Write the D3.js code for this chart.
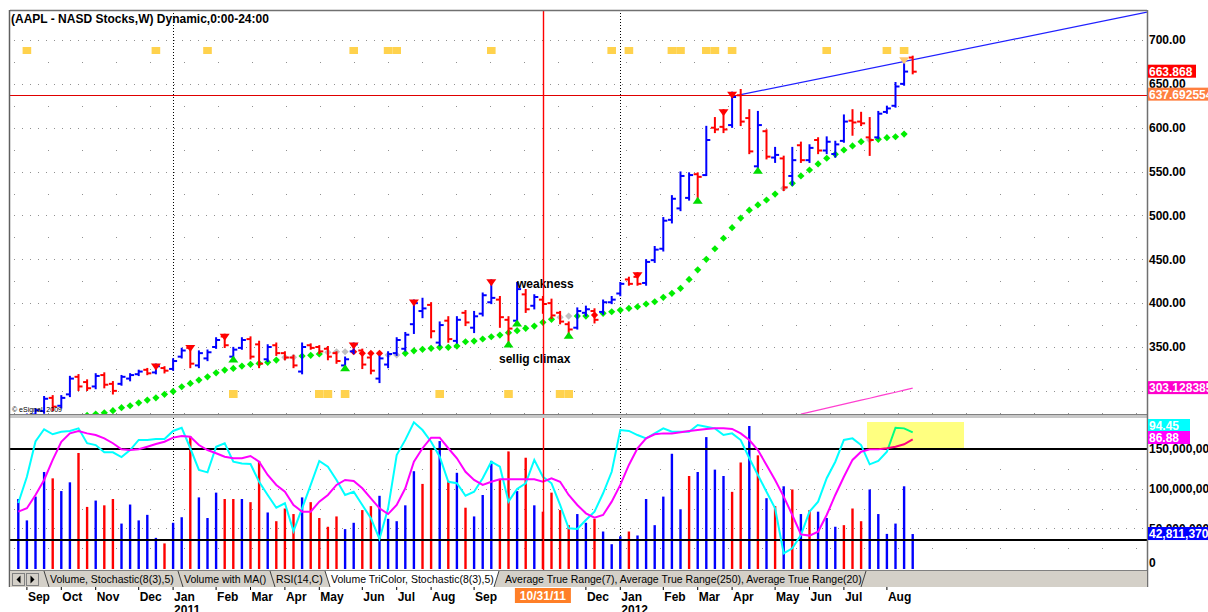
<!DOCTYPE html>
<html>
<head>
<meta charset="utf-8">
<script src="https://cdn.jsdelivr.net/npm/d3@7"></script>
<style>
  body { margin: 0; background: #fff; }
  svg text { font-family: "Liberation Sans", Arial, sans-serif; }
</style>
</head>
<body>
<div id="chart"></div>
<script>
// ---- weekly AAPL bars, Aug 30 2010 .. Aug 20 2012 (bar index 0..104) ----
var opens = [262,266,273,277,292,283,296,316,310,305, 318,308,308,314,319,324,321,326,325,339,
  349,329,337,350,362,339,349,359,353,336, 352,343,338,322,352,350,348,343,329,345,
  346,338,314,330,343,348,376,391,398,355, 380,357,389,372,388,401,404,381,380,410,
  397,404,400,389,376,372,389,391,390,401, 411,427,430,423,449,462,495,508,520,547,
  546,600,601,603,637,611,556,596,566,565, 545,580,563,586,574,570,585,608,607,589,
  589,618,625,650,680];
var highs = [268,273,279,293,294,294,316,318,312,319, 320,310,317,319,323,325,330,327,336,348,
  351,345,346,360,364,349,360,361,356,352, 354,344,340,354,353,351,350,344,338,354,
  347,341,339,344,360,366,403,405,400,378, 384,384,391,390,411,426,407,384,423,415,
  409,407,404,390,378,394,396,393,403,407, 423,429,434,449,464,497,522,549,548,548,
  601,611,620,640,643,620,618,597,577,567, 577,583,580,588,589,584,614,620,617,611,
  618,624,651,677,681];
var lows = [256,263,272,275,278,281,294,301,301,303, 304,297,307,312,318,319,320,321,324,338,
  327,327,335,349,350,337,348,337,327,334, 341,336,327,320,348,343,336,332,327,343,
  326,320,310,327,341,346,366,384,361,352, 356,355,375,367,386,400,373,354,378,390,
  394,389,383,377,364,371,386,378,388,400, 409,421,421,421,447,460,492,506,518,518,
  546,595,595,601,603,571,552,565,561,529, 535,561,561,571,571,567,584,592,603,569,
  588,617,624,649,662];
var closes = [266,271,278,291,282,292,314,305,303,317, 307,300,316,318,322,320,328,323,334,346,
  331,343,344,358,352,347,358,339,331,350, 343,338,329,350,349,345,339,334,336,353,
  330,323,337,342,358,364,400,394,368,375, 359,381,378,385,409,406,384,371,416,393,
  407,399,386,379,370,391,393,381,401,404, 422,422,422,447,461,494,519,545,546,544,
  586,598,598,635,607,573,603,567,569,532, 563,563,577,574,584,581,607,606,605,586,
  616,622,647,664,663.87];

// stop-and-reverse style dots under/over price, colour code g/s/r
var dotValues = [null,null,null,null,null,null,null,269,272,273.6, 275,277.4,280.8,283,286.4,289.5,292,296,299.4,304.7,
  308.5,312.3,316,320.6,323.7,325.6,328.2,330.2,331.3,332.5, 335.1,338.2,338.2,339.7,340.5,342,343.9,344.6,344.6,344.6,
  342.8,342.8,342.8,340.9,340.9,342.8,345.7,347.3,348.5,349.6, 349.6,351.1,356,356.8,359.1,361.7,363.6,366.3,368.6,371.3,
  373.9,378.1,381.5,383.8,385.3,385.3,385.3,386.4,388.4,390.2, 392.1,394.1,395.9,399,401.6,406.6,411.2,416.9,427,438,
  450,462,474,486,497,506,512,517.6,524.4,531, 536.6,545,551.8,558.7,565.2,569.7,574.6,579.2,584.1,586,
  586.8,588.6,589.7,592.8,null];
var dotColors = 'gggggggggg' + 'gggggggggg' + 'gggggggggg' + 'gssgggsssr' + 'rrrssggggg' +
  'gggggggggg' + 'gggssggrgg' + 'gggggggggg' + 'gggggggggs' + 'gggggggggs' + 'ggggg';

var upSignals = [25, 38, 57, 58, 64, 79, 86];
var downSignals = [16, 20, 24, 39, 46, 55, 72, 82, 83];
var warnSignals = [103];
var topMarks = [1, 16, 22, 39, 43, 44, 55, 69, 71, 76, 77, 80, 81, 83, 94, 101, 103];
var bottomMarks = [25, 35, 36, 38, 49, 57, 63, 64];

var maFirstBar = 91;
var maValues = [273.5, 275.8, 278.0, 280.3, 282.6, 284.9, 287.1, 289.4, 291.6, 293.9, 296.2, 298.4, 300.8, 303.1];

var trendStart = [84, 637.7];
var trendEnd = [103, 675.5];
var lastLevel = 637.692554;

// ---- lower pane: volume (millions) and stochastic ----
var volumes = [87,60,90,121,113,97,108,145,77,85, 79,87,56,80,60,67,38,31,57,64,
  166,89,63,95,87,87,87,83,135,70, 59,75,68,89,83,63,52,65,49,57,
  73,78,91,62,59,79,122,106,150,160, 110,120,76,65,92,135,111,147,97,139,
  79,71,95,73,54,68,57,62,46,30, 40,46,41,87,54,90,144,74,116,121,
  165,124,116,96,133,179,142,88,78,103, 99,68,73,71,63,52,54,75,59,99,
  68,43,56,103,42.81137];
var volColors = 'bbbbrbbrrbrrbbbbbrbbrbbbrrbrrbrrrbrrrrbbrrbbb' +
  'bbrrbrbrbbbrrbrbrrrrbbrbbbrbbbbbbrbbbbrrbrbrbrbrbbbrrrbbbbb';
var stochK = [44.4,61.7,85,93,89.7,91.4,91.9,93.6,83.8,82.6, 77.8,77.8,74.7,79.3,86,86,86.6,86.6,91.9,94,
  80.5,66.2,64.6,81.5,83.8,71.6,70.5,70.1,58.4,49.7, 41.3,44.2,25.9,40.9,56.3,72.1,68.3,59.6,49.7,51.8,
  43.1,34.3,20.7,40.9,76,86,97.6,92.5,84.8,74.9, 58.4,57.4,49.2,51.8,60.7,71.6,68.3,45.3,53.6,57.4,
  72.8,61.7,57.4,43.1,27.7,27.3,33.2,38.7,50.8,65, 92.5,91.9,89.2,87,90.3,93.6,91.4,91.4,91.4,95.8,
  94.7,93.6,89.2,90.3,85.9,73.9,62.9,51.8,40.9,11.2, 14.5,23.3,38.7,45.3,60.7,71.6,86,87,82.6,69.9,
  72.1,78.2,94,93.6,91];
var stochD = [38.7,40.9,49.7,59.6,72.8,84.8,90.3,91.9,90.3,89.2, 87,83.8,79.8,79.3,79.8,81.5,83.3,84.8,87.5,88.6,
  88.1,82.6,79.3,77.2,74.9,73.9,73.9,75.4,71.6,62.9, 56.3,51.8,43.1,38.7,38.7,45.3,49.7,56.3,59.6,58.9,
  54.1,47.5,40.9,37.1,43.1,54.1,71.6,80.5,87.5,87.5, 80.5,73.9,65,59.6,56.3,58.4,60,60,60,60,
  60,58.4,60.7,58.4,49.7,43.1,37.6,34.7,36.5,45.3, 56.3,69.5,80.5,87,89.7,90.3,90.3,91,91.9,92.5,
  93.2,93.6,93.6,93.2,90.3,85.9,79.3,69.5,59.6,48.6, 36.5,23.7,22.9,25.5,36.5,49.7,61.7,72.8,78.2,79.8,
  79.8,80.5,81.5,83.1,86.4];

// ---- axis text ----
var monthLabels = ['Sep','Oct','Nov','Dec','Jan','Feb','Mar','Apr','May','Jun','Jul','Aug','Sep',
  'Dec','Jan','Feb','Mar','Apr','May','Jun','Jul','Aug'];
var monthBars = [1,5,9,14,18,23,27,31,35,40,44,48,53, 66,70,75,79,83,88,92,96,101];
var yearLabels = ['2011', '2012'];
var yearBars = [18, 70];
var cursorBar = 61;
var cursorLabel = '10/31/11';
var priceTicks = [350, 400, 450, 500, 550, 600, 650, 700];
var volTicks = [0, 50, 100, 150];
var volTickLabels = ['0', '50,000,000', '100,000,000', '150,000,000'];
var tabLabels = ['Volume, Stochastic(8(3),5)', 'Volume with MA()', 'RSI(14,C)',
  'Volume TriColor, Stochastic(8(3),5)', 'Average True Range(7), Average True Range(250), Average True Range(20)'];
var title = '(AAPL - NASD Stocks,W) Dynamic,0:00-24:00';

// ---- layout ----
var W = 1208, H = 612;
var L = 10, R = 1147;
var mainTop = 10, mainBot = 414, lowTop = 418, lowBot = 569;
var BLUE = '#0000ff', RED = '#ff0000';

var svg = d3.select('#chart').append('svg')
  .attr('width', W).attr('height', H)
  .style('display', 'block');

svg.append('rect').attr('width', W).attr('height', H).attr('fill', '#fff');

var defs = svg.append('defs');
defs.append('clipPath').attr('id', 'clipMain').append('rect')
  .attr('x', L).attr('y', mainTop).attr('width', R - L).attr('height', mainBot - mainTop);
defs.append('clipPath').attr('id', 'clipLow').append('rect')
  .attr('x', L).attr('y', lowTop).attr('width', R - L).attr('height', lowBot - lowTop);

var x = d3.scaleLinear().domain([0, 104]).range([18.3, 912.7]);
var y = d3.scaleLinear().domain([350, 700]).range([347, 40]);
var yV = d3.scaleLinear().domain([0, 150]).range([568, 449]);
var yS = d3.scaleLinear().domain([20, 80]).range([540, 449]);

var idx = d3.range(opens.length);

// ---------------- main pane ----------------
var main = svg.append('g').attr('clip-path', 'url(#clipMain)');

// grid
d3.range(275, 725, 25).forEach(function (v) {
  var major = v % 50 === 0;
  main.append('line')
    .attr('x1', L + 4).attr('x2', R)
    .attr('y1', Math.round(y(v)) + 0.5).attr('y2', Math.round(y(v)) + 0.5)
    .attr('stroke', '#909090')
    .attr('stroke-dasharray', major ? '1,7' : '1,33');
});
yearBars.forEach(function (b) {
  main.append('line')
    .attr('x1', Math.round(x(b)) + 0.5).attr('x2', Math.round(x(b)) + 0.5)
    .attr('y1', mainTop).attr('y2', mainBot)
    .attr('stroke', '#000').attr('stroke-dasharray', '1,2');
});

// yellow marker squares
topMarks.forEach(function (b) {
  main.append('rect').attr('x', x(b) - 4.3).attr('y', 47).attr('width', 8.6).attr('height', 7)
    .attr('fill', '#ffd24d');
});
bottomMarks.forEach(function (b) {
  main.append('rect').attr('x', x(b) - 4.3).attr('y', 390).attr('width', 8.6).attr('height', 8)
    .attr('fill', '#ffd24d');
});

// last-price level and trend line
main.append('line')
  .attr('x1', L).attr('x2', R)
  .attr('y1', Math.round(y(lastLevel)) + 0.5).attr('y2', Math.round(y(lastLevel)) + 0.5)
  .attr('stroke', '#e00000');
var slope = (y(trendEnd[1]) - y(trendStart[1])) / (x(trendEnd[0]) - x(trendStart[0]));
main.append('line')
  .attr('x1', x(trendStart[0])).attr('y1', y(trendStart[1]))
  .attr('x2', R).attr('y2', y(trendStart[1]) + slope * (R - x(trendStart[0])))
  .attr('stroke', '#2020ff').attr('stroke-width', 1.2);

// magenta average
var maLine = d3.line()
  .x(function (d, i) { return x(maFirstBar + i); })
  .y(function (d) { return y(d); });
main.append('path').datum(maValues).attr('d', maLine)
  .attr('fill', 'none').attr('stroke', '#ff40d0').attr('stroke-width', 1.2);

// dots
var dotFill = { g: '#00ee00', s: '#c0c0c0', r: '#ff0000' };
main.append('g').selectAll('path')
  .data(idx.filter(function (i) { return dotValues[i] !== null; }))
  .enter().append('path')
  .attr('d', d3.symbol().type(d3.symbolSquare).size(26))
  .attr('transform', function (i) { return 'translate(' + x(i) + ',' + y(dotValues[i]) + ') rotate(45)'; })
  .attr('fill', function (i) { return dotFill[dotColors[i]]; });

// OHLC bars
var bars = main.append('g').selectAll('g').data(idx).enter().append('g')
  .attr('stroke', function (i) { return closes[i] >= opens[i] ? BLUE : RED; })
  .attr('stroke-width', 2);
bars.append('line')
  .attr('x1', function (i) { return x(i); }).attr('x2', function (i) { return x(i); })
  .attr('y1', function (i) { return y(highs[i]) - 1; }).attr('y2', function (i) { return y(lows[i]) + 1; });
bars.append('line')
  .attr('x1', function (i) { return x(i) - 4; }).attr('x2', function (i) { return x(i); })
  .attr('y1', function (i) { return y(opens[i]); }).attr('y2', function (i) { return y(opens[i]); });
bars.append('line')
  .attr('x1', function (i) { return x(i); }).attr('x2', function (i) { return x(i) + 4; })
  .attr('y1', function (i) { return y(closes[i]); }).attr('y2', function (i) { return y(closes[i]); });

// signal triangles
function downTri(cx, top) {
  return 'M' + (cx - 5) + ',' + top + 'L' + (cx + 5) + ',' + top + 'L' + cx + ',' + (top + 7) + 'Z';
}
function upTri(cx, bot) {
  return 'M' + (cx - 5) + ',' + bot + 'L' + (cx + 5) + ',' + bot + 'L' + cx + ',' + (bot - 7) + 'Z';
}
downSignals.forEach(function (b) {
  main.append('path').attr('d', downTri(x(b), y(highs[b]) - 1)).attr('fill', RED);
});
warnSignals.forEach(function (b) {
  main.append('path').attr('d', downTri(x(b), y(highs[b]) - 3)).attr('fill', '#ffc870');
});
upSignals.forEach(function (b) {
  main.append('path').attr('d', upTri(x(b), y(lows[b]) + 4)).attr('fill', '#00dd00');
});

// annotations
main.append('text').attr('x', 517).attr('y', 288).attr('font-size', 12).attr('font-weight', 'bold')
  .attr('fill', '#000').text('weakness');
main.append('text').attr('x', 499).attr('y', 363).attr('font-size', 12).attr('font-weight', 'bold')
  .attr('fill', '#000').text('sellig climax');
main.append('text').attr('x', 12).attr('y', 412).attr('font-size', 7).attr('fill', '#000')
  .text('\u00a9 eSignal, 2009');

// title
svg.append('text').attr('x', 11).attr('y', 23).attr('font-size', 12).attr('font-weight', 'bold')
  .attr('fill', '#000').text(title);

// ---------------- lower pane ----------------
var low = svg.append('g').attr('clip-path', 'url(#clipLow)');
d3.range(25, 175, 25).forEach(function (v) {
  var major = v % 50 === 0;
  low.append('line')
    .attr('x1', L + 4).attr('x2', R)
    .attr('y1', Math.round(yV(v)) + 0.5).attr('y2', Math.round(yV(v)) + 0.5)
    .attr('stroke', '#909090')
    .attr('stroke-dasharray', major ? '1,7' : '1,33');
});
yearBars.forEach(function (b) {
  low.append('line')
    .attr('x1', Math.round(x(b)) + 0.5).attr('x2', Math.round(x(b)) + 0.5)
    .attr('y1', lowTop).attr('y2', lowBot)
    .attr('stroke', '#000').attr('stroke-dasharray', '1,2');
});

low.append('g').selectAll('line').data(idx).enter().append('line')
  .attr('x1', function (i) { return x(i); }).attr('x2', function (i) { return x(i); })
  .attr('y1', yV(0) + 2).attr('y2', function (i) { return yV(volumes[i]); })
  .attr('stroke', function (i) { return volColors[i] === 'r' ? RED : BLUE; })
  .attr('stroke-width', 2.4);

[80, 20].forEach(function (v) {
  low.append('line').attr('x1', L).attr('x2', R)
    .attr('y1', yS(v)).attr('y2', yS(v))
    .attr('stroke', '#000').attr('stroke-width', 2);
});

var stochLine = d3.line().x(function (d, i) { return x(i); }).y(function (d) { return yS(d); });
low.append('path').datum(stochK).attr('d', stochLine)
  .attr('fill', 'none').attr('stroke', '#00ffff').attr('stroke-width', 2);
low.append('path').datum(stochD).attr('d', stochLine)
  .attr('fill', 'none').attr('stroke', '#ff00ff').attr('stroke-width', 2);

low.append('rect').attr('x', 867).attr('y', 422).attr('width', 97).attr('height', 27)
  .attr('fill', '#ffff80').style('mix-blend-mode', 'multiply');

// cursor line across both panes
svg.append('line')
  .attr('x1', Math.round(x(cursorBar)) + 0.5).attr('x2', Math.round(x(cursorBar)) + 0.5)
  .attr('y1', mainTop).attr('y2', lowBot + 2)
  .attr('stroke', '#ff0000').attr('stroke-width', 1.4);

// ---------------- frames ----------------
svg.append('rect').attr('x', L).attr('y', mainBot).attr('width', R - L).attr('height', 4)
  .attr('fill', '#c8c8c8');
svg.append('line').attr('x1', L).attr('x2', R).attr('y1', mainBot + 0.5).attr('y2', mainBot + 0.5)
  .attr('stroke', '#808080');
svg.append('line').attr('x1', L).attr('x2', R).attr('y1', mainTop + 0.5).attr('y2', mainTop + 0.5)
  .attr('stroke', '#707070').attr('stroke-width', 1.5);
svg.append('line').attr('x1', L - 0.5).attr('x2', L - 0.5).attr('y1', mainTop).attr('y2', 587)
  .attr('stroke', '#606060').attr('stroke-width', 1.5);
svg.append('line').attr('x1', R + 0.5).attr('x2', R + 0.5).attr('y1', mainTop).attr('y2', 587)
  .attr('stroke', '#707070').attr('stroke-width', 1.5);

// tab strip
var tabs = svg.append('g');
tabs.append('rect').attr('x', L).attr('y', lowBot + 1).attr('width', R - L).attr('height', 17)
  .attr('fill', '#d4d0c8');
tabs.append('line').attr('x1', L).attr('x2', R).attr('y1', lowBot + 1.5).attr('y2', lowBot + 1.5)
  .attr('stroke', '#808080');
[12, 26].forEach(function (bx, k) {
  tabs.append('rect').attr('x', bx + 0.5).attr('y', 573.5).attr('width', 12).attr('height', 12)
    .attr('fill', '#d4d0c8').attr('stroke', '#808080');
  var cx = bx + 6.5, cy = 579.5;
  tabs.append('path')
    .attr('d', k === 0 ? 'M' + (cx - 2) + ',' + cy + 'L' + (cx + 2) + ',' + (cy - 4) + 'L' + (cx + 2) + ',' + (cy + 4) + 'Z'
                       : 'M' + (cx + 2) + ',' + cy + 'L' + (cx - 2) + ',' + (cy - 4) + 'L' + (cx - 2) + ',' + (cy + 4) + 'Z')
    .attr('fill', '#000');
});
var tabX = [44, 178, 270, 325, 499];
var tabEnd = [178, 270, 325, 499, 866];
tabLabels.forEach(function (t, k) {
  var active = k === 3;
  if (active) {
    tabs.append('path')
      .attr('d', 'M' + tabX[k] + ',571L' + (tabX[k] + 5) + ',587L' + (tabEnd[k] - 5) + ',587L' + tabEnd[k] + ',571Z')
      .attr('fill', '#fff');
  }
  tabs.append('line')
    .attr('x1', tabX[k]).attr('y1', 571).attr('x2', tabX[k] + (k === 4 ? -5 : 5)).attr('y2', 587)
    .attr('stroke', '#404040');
  tabs.append('text').attr('x', tabX[k] + 6).attr('y', 583).attr('font-size', 10.5)
    .attr('fill', '#000').text(t);
});
tabs.append('line').attr('x1', 866).attr('y1', 571).attr('x2', 861).attr('y2', 587).attr('stroke', '#404040');

// ---------------- right axis ----------------
var axisG = svg.append('g').attr('font-size', 12).attr('font-weight', 'bold');
priceTicks.forEach(function (v) {
  axisG.append('text').attr('x', R + 2).attr('y', y(v)).attr('dy', '0.36em').text(v.toFixed(2));
});
volTicks.forEach(function (v, k) {
  axisG.append('text').attr('x', R + 2).attr('y', yV(v) - (v === 0 ? 5 : 0)).attr('dy', '0.36em')
    .text(volTickLabels[k]);
});

function tag(v, yy, bg, txt) {
  var g = svg.append('g');
  g.append('rect').attr('x', R + 1).attr('y', yy - 7).attr('width', W - R).attr('height', 13).attr('fill', bg);
  g.append('text').attr('x', R + 2).attr('y', yy).attr('dy', '0.36em')
    .attr('font-size', 12).attr('font-weight', 'bold').attr('fill', '#fff').text(txt);
  return g;
}
tag(closes[104], y(closes[104]), '#ff0000', '663.868').select('rect').attr('width', 48);
tag(lastLevel, y(lastLevel), '#ff7f3f', '637.692554');
tag(maValues[maValues.length - 1], y(maValues[maValues.length - 1]), '#ff00cc', '303.128385');
tag(stochK[104], 426, '#00ffff', '94.45').select('rect').attr('width', 42);
tag(stochD[104], 438, '#ff00ff', '86.88').select('rect').attr('width', 42);
tag(volumes[104], yV(volumes[104]), '#0000ff', '42,811,370');

// ---------------- time axis ----------------
var xa = svg.append('g').attr('font-size', 12).attr('font-weight', 'bold');
monthLabels.forEach(function (m, k) {
  var px = x(monthBars[k]);
  xa.append('line').attr('x1', px).attr('x2', px).attr('y1', 587).attr('y2', 590).attr('stroke', '#000');
  xa.append('text').attr('x', px + 1).attr('y', 601).text(m);
});
yearLabels.forEach(function (t, k) {
  xa.append('text').attr('x', x(yearBars[k]) + 1).attr('y', 614).text(t);
});
var cx = x(cursorBar);
xa.append('rect').attr('x', cx - 28).attr('y', 588).attr('width', 56).attr('height', 15).attr('fill', '#ff7f27');
xa.append('text').attr('x', cx).attr('y', 600).attr('text-anchor', 'middle').attr('fill', '#fff')
  .text(cursorLabel);
</script>
</body>
</html>
